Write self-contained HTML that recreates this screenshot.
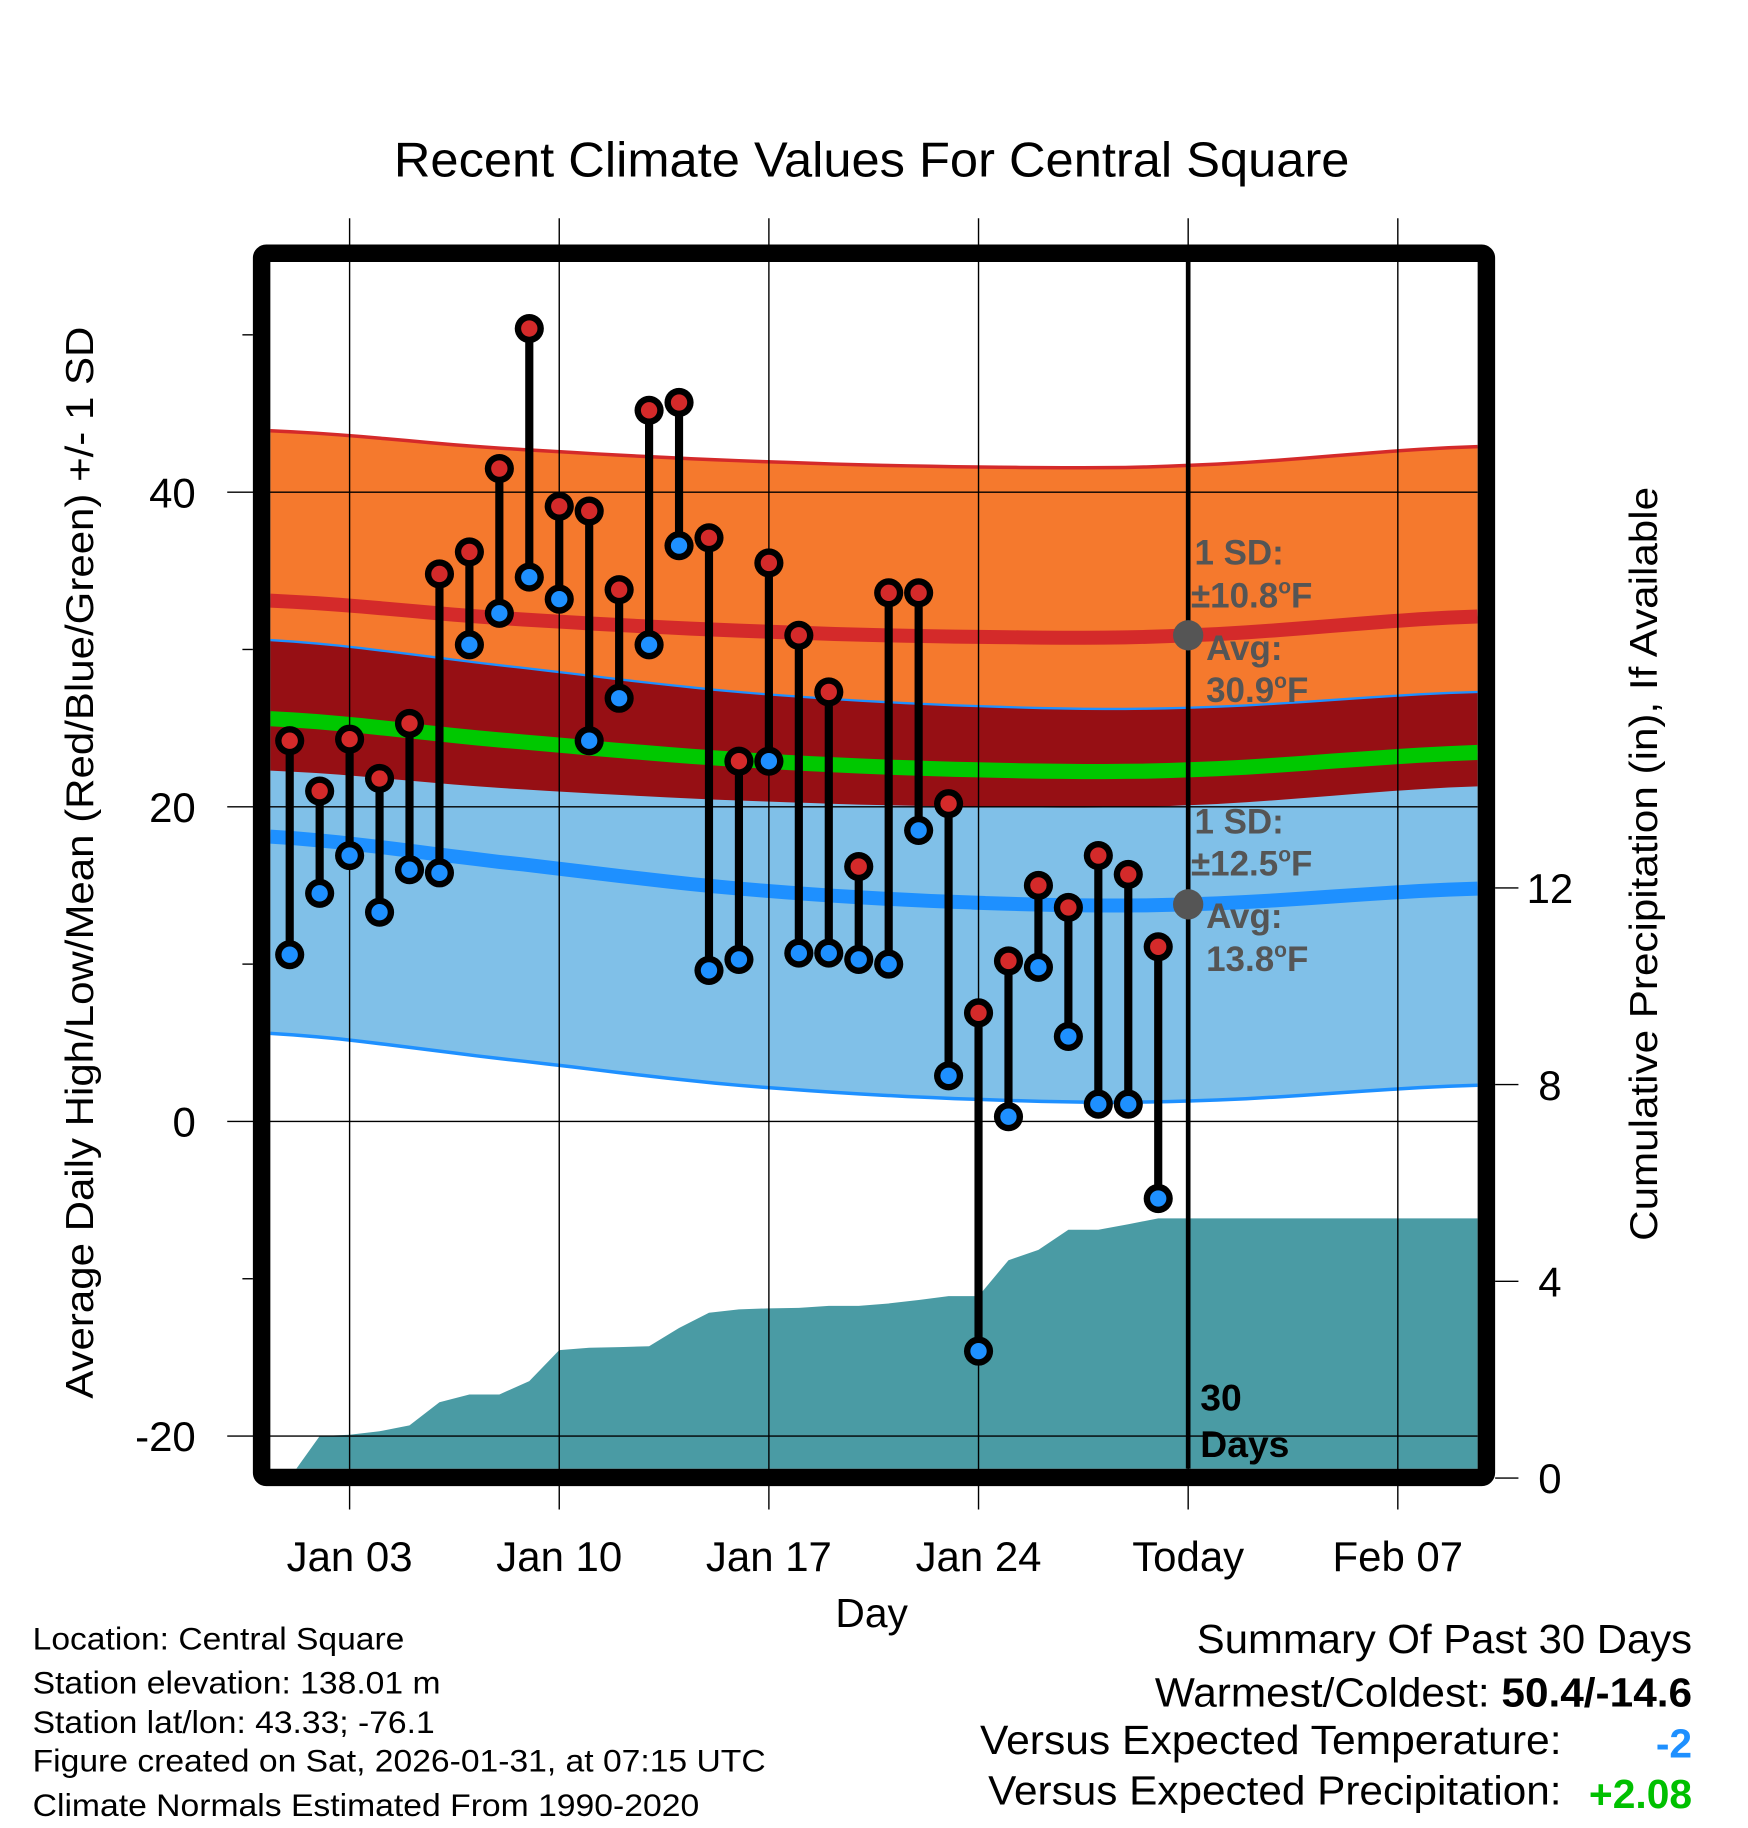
<!DOCTYPE html>
<html><head><meta charset="utf-8"><style>
html,body{margin:0;padding:0;background:#fff;}
svg{display:block;font-family:"Liberation Sans",Arial,sans-serif;}
</style></head><body>
<svg id="chart" width="1748" height="1828" viewBox="0 0 1500 1568" xmlns="http://www.w3.org/2000/svg">
<defs><clipPath id="plotclip"><rect x="232" y="224" width="1036" height="1036"/></clipPath></defs>
<rect x="0" y="0" width="1500" height="1568" fill="#fff"/>
<text x="748" y="151" font-size="42" text-anchor="middle" textLength="820" lengthAdjust="spacingAndGlyphs">Recent Climate Values For Central Square</text>
<g id="bands" clip-path="url(#plotclip)"></g>
<g id="grid"></g>
<g id="marks" clip-path="url(#plotclip)"></g>
<rect x="224.5" y="217" width="1051" height="1050.5" fill="none" stroke="#000" stroke-width="15" rx="4"/>
<g id="axes"></g>
<g font-weight="bold" font-size="30" fill="#555">
<text x="1025" y="484">1 SD:</text>
<text x="1022" y="521">±10.8<tspan font-size="18" dy="-12">o</tspan><tspan dy="12">F</tspan></text>
<text x="1035" y="566">Avg:</text>
<text x="1035" y="602">30.9<tspan font-size="18" dy="-12">o</tspan><tspan dy="12">F</tspan></text>
<text x="1025" y="715">1 SD:</text>
<text x="1022" y="751">±12.5<tspan font-size="18" dy="-12">o</tspan><tspan dy="12">F</tspan></text>
<text x="1035" y="796">Avg:</text>
<text x="1035" y="833">13.8<tspan font-size="18" dy="-12">o</tspan><tspan dy="12">F</tspan></text>
</g>
<g font-weight="bold" font-size="32" fill="#000">
<text x="1030" y="1210">30</text><text x="1030" y="1250">Days</text>
</g>
<text transform="translate(80,740) rotate(-90)" font-size="33" text-anchor="middle" textLength="920" lengthAdjust="spacingAndGlyphs">Average Daily High/Low/Mean (Red/Blue/Green) +/- 1 SD</text>
<text transform="translate(1422,741) rotate(-90)" font-size="33" text-anchor="middle" textLength="647" lengthAdjust="spacingAndGlyphs">Cumulative Precipitation (in), If Available</text>
<text x="748" y="1396" font-size="35" text-anchor="middle">Day</text>
<g font-size="27">
<text x="28" y="1415" textLength="319" lengthAdjust="spacingAndGlyphs">Location: Central Square</text>
<text x="28" y="1453" textLength="350" lengthAdjust="spacingAndGlyphs">Station elevation: 138.01 m</text>
<text x="28" y="1487" textLength="345" lengthAdjust="spacingAndGlyphs">Station lat/lon: 43.33; -76.1</text>
<text x="28" y="1520" textLength="629" lengthAdjust="spacingAndGlyphs">Figure created on Sat, 2026-01-31, at 07:15 UTC</text>
<text x="28" y="1558" textLength="572" lengthAdjust="spacingAndGlyphs">Climate Normals Estimated From 1990-2020</text>
</g>
<g font-size="35">
<text x="1027" y="1418" textLength="425" lengthAdjust="spacingAndGlyphs">Summary Of Past 30 Days</text>
<text x="991" y="1464" textLength="461" lengthAdjust="spacingAndGlyphs">Warmest/Coldest: <tspan font-weight="bold">50.4/-14.6</tspan></text>
<text x="841" y="1505" textLength="499" lengthAdjust="spacingAndGlyphs">Versus Expected Temperature:</text>
<text x="1452" y="1508" text-anchor="end" font-weight="bold" fill="#1e90ff">-2</text>
<text x="848" y="1548" textLength="492" lengthAdjust="spacingAndGlyphs">Versus Expected Precipitation:</text>
<text x="1452" y="1551" text-anchor="end" font-weight="bold" fill="#00c000">+2.08</text>
</g>
</svg>
<script>
const days = [1,2,3,4,5,6,7,8,9,10,11,12,13,14,15,16,17,18,19,20,21,22,23,24,25,26,27,28,29,30];
const highs = [24.2,21.0,24.3,21.8,25.3,34.8,36.2,41.5,50.4,39.1,38.8,33.8,45.2,45.7,37.1,22.9,35.5,30.9,27.3,16.2,33.6,33.6,20.2,6.9,10.2,15.0,13.6,16.9,15.7,11.1];
const lows = [10.6,14.5,16.9,13.3,16.0,15.8,30.3,32.3,34.6,33.2,24.2,26.9,30.3,36.6,9.6,10.3,22.9,10.7,10.7,10.3,10.0,18.5,2.9,-14.6,0.3,9.8,5.4,1.1,1.1,-4.9];
const precip = [0,0.85,0.88,0.95,1.07,1.54,1.7,1.7,1.97,2.6,2.65,2.66,2.68,3.05,3.36,3.43,3.45,3.46,3.5,3.5,3.55,3.62,3.7,3.7,4.43,4.64,5.05,5.05,5.16,5.28];
const normDays = [0.35,8,16,24,31,40.66];
const normHigh = [33.1,32.0,31.2,30.8,30.9,32.1];
const normLow = [18.1,16.5,14.8,13.9,13.8,14.8];
const sdHigh = 10.8;
const sdLow = 12.5;
const yTicks = [-20,0,20,40];
const yMinor = [-10,10,30,50];
const pTicks = [0,4,8,12];
const xTickDays = [3,10,17,24,31,38];
const xTickLabels = ["Jan 03","Jan 10","Jan 17","Jan 24","Today","Feb 07"];
const todayDay = 31;

const NS="http://www.w3.org/2000/svg";
const X = d => 248.6 + (d-1)*25.7;
const Y = v => 962 - 13.5*v;
const P = p => 1268 - 42.2*p;
function mk(tag, attrs, parent){const e=document.createElementNS(NS,tag);for(const k in attrs)e.setAttribute(k,attrs[k]);parent.appendChild(e);return e;}
function sample(arr, fn){
  const pts=[];
  for(let i=0;i<normDays.length-1;i++){
    const p0=arr[Math.max(0,i-1)],p1=arr[i],p2=arr[i+1],p3=arr[Math.min(arr.length-1,i+2)];
    for(let t=0;t<1;t+=0.1){
      const t2=t*t,t3=t2*t;
      const v=0.5*((2*p1)+(-p0+p2)*t+(2*p0-5*p1+4*p2-p3)*t2+(-p0+3*p1-3*p2+p3)*t3);
      const d=normDays[i]+(normDays[i+1]-normDays[i])*t;
      pts.push([X(d),Y(fn(v))]);
    }
  }
  pts.push([X(normDays[normDays.length-1]),Y(fn(arr[arr.length-1]))]);
  return pts;
}
const ptsStr = pts => pts.map(p=>p[0].toFixed(1)+','+p[1].toFixed(1)).join(' ');
function band(upper, lower){return ptsStr(upper)+' '+ptsStr(lower.slice().reverse());}

const bands=document.getElementById('bands');
const hiU=sample(normHigh,v=>v+sdHigh), hiL=sample(normHigh,v=>v-sdHigh), hiM=sample(normHigh,v=>v);
const loU=sample(normLow,v=>v+sdLow), loL=sample(normLow,v=>v-sdLow), loM=sample(normLow,v=>v);
const mean=normHigh.map((h,i)=>(h+normLow[i])/2);
const mM=sample(mean,v=>v);
let e;
e=mk('polygon',{points:band(hiU,hiL),fill:'#f5792d'},bands);


e=mk('polygon',{points:band(loU,loL),fill:'#80c0e8'},bands);


e=mk('polygon',{points:band(loU,hiL),fill:'#960f14'},bands);


const pp=[[X(1),1275]];
days.forEach((d,i)=>pp.push([X(d),P(precip[i])]));
pp.push([1275,P(precip[precip.length-1])]);pp.push([1275,1275]);
e=mk('polygon',{points:ptsStr(pp),fill:'#4a9ba4'},bands);


function line(pts,color,w,name){const l=mk('polyline',{points:ptsStr(pts),fill:'none',stroke:color,'stroke-width':w},bands);

}
line(hiU,'#d42a2a',3,'high-plus-sd-line');
line(loU,'#1e90ff',2,'low-plus-sd-line');
line(loL,'#1e90ff',3,'low-minus-sd-line');
line(hiM,'#d42a2a',12,'avg-high-line');
line(loM,'#1e90ff',12,'avg-low-line');
line(mM,'#00c800',13,'avg-mean-line');

const grid=document.getElementById('grid');
xTickDays.forEach(d=>{mk('line',{x1:X(d),x2:X(d),y1:187,y2:1295,stroke:'#000','stroke-width':1.2},grid);});
yTicks.forEach(v=>{mk('line',{x1:195,x2:1268,y1:Y(v),y2:Y(v),stroke:'#000','stroke-width':1.2},grid);});

const marks=document.getElementById('marks');
days.forEach((d,i)=>{
  const s=mk('line',{x1:X(d),x2:X(d),y1:Y(highs[i]),y2:Y(lows[i]),stroke:'#000','stroke-width':7},marks);
  
  
});
days.forEach((d,i)=>{
  [[highs[i],'#d42a2a','high-marker'],[lows[i],'#1e90ff','low-marker']].forEach(([v,c,n])=>{
    const o=mk('circle',{cx:X(d),cy:Y(v),r:12.5,fill:'#000'},marks);
    
    
    mk('circle',{cx:X(d),cy:Y(v),r:7,fill:c},marks);
  });
});
e=mk('line',{x1:X(todayDay),x2:X(todayDay),y1:224,y2:1260,stroke:'#000','stroke-width':4},marks);


e=mk('circle',{cx:X(todayDay),cy:Y(normHigh[4]),r:13,fill:'#555'},marks);


e=mk('circle',{cx:X(todayDay),cy:Y(normLow[4]),r:13,fill:'#555'},marks);



const axes=document.getElementById('axes');
yTicks.forEach(v=>{
  const t=mk('text',{x:168,y:Y(v)+13,'font-size':36,'text-anchor':'end'},axes);t.textContent=v;
  
  
});
yMinor.forEach(v=>{mk('line',{x1:208,x2:217,y1:Y(v),y2:Y(v),stroke:'#000','stroke-width':1.2},axes);});
pTicks.forEach(p=>{
  mk('line',{x1:1283,x2:1303,y1:P(p),y2:P(p),stroke:'#000','stroke-width':1.2},axes);
  const t=mk('text',{x:1330,y:P(p)+13,'font-size':36,'text-anchor':'middle'},axes);t.textContent=p;
  
  
});
xTickDays.forEach((d,i)=>{
  const t=mk('text',{x:X(d),y:1348,'font-size':36,'text-anchor':'middle'},axes);t.textContent=xTickLabels[i];
  
  
});
</script>
</body></html>
